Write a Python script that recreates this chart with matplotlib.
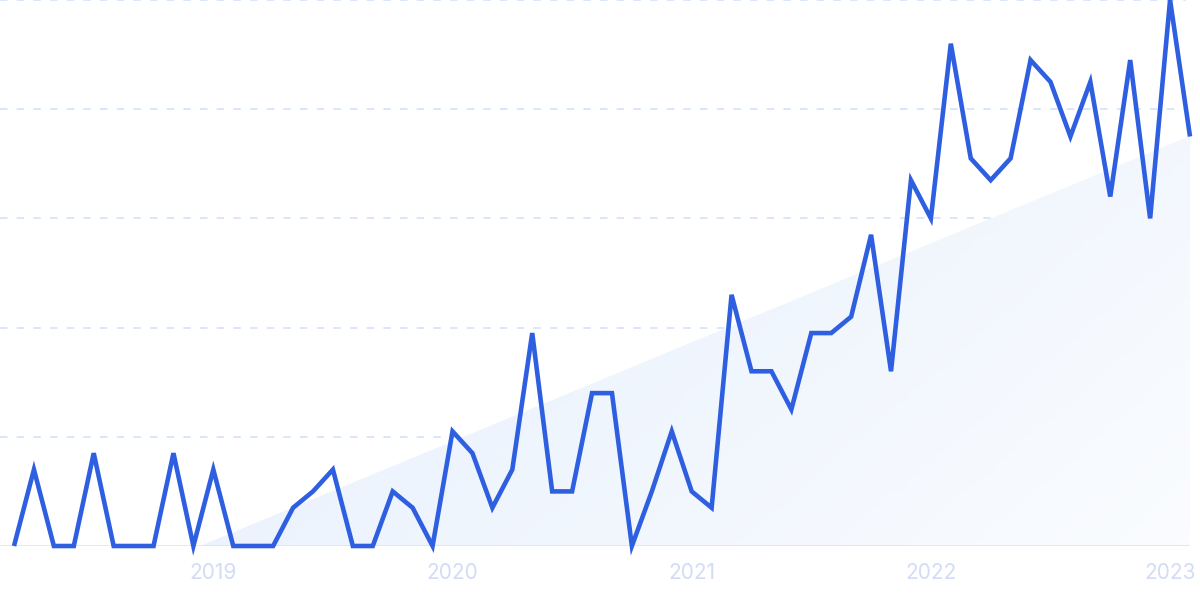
import matplotlib
matplotlib.use("Agg")
import matplotlib.pyplot as plt
import numpy as np
from matplotlib.colors import LinearSegmentedColormap

plt.rcParams['font.family'] = ['Inter', 'DejaVu Sans']

# Monthly data, 2018-03 .. 2023-02
months = [f"{y}-{m:02d}" for y in range(2018, 2024) for m in range(1, 13)][2:62]
values = [0, 14, 0, 0, 17, 0, 0, 0, 17, 0,
          14, 0, 0, 0, 7, 10, 14, 0, 0, 10,
          7, 0, 21, 17, 7, 14, 39, 10, 10, 28,
          28, 0, 10, 21, 10, 7, 46, 32, 32, 25,
          39, 39, 42, 57, 32, 67, 60, 92, 71, 67,
          71, 89, 85, 75, 85, 64, 89, 60, 100, 75]
trend_start, trend_end = -14.1, 75.1
tick_labels = ["2019", "2020", "2021", "2022", "2023"]
tick_months = ["2019-01", "2020-01", "2021-01", "2022-01", "2023-01"]

W, H = 1200, 599
fig = plt.figure(figsize=(W / 100, H / 100), dpi=100)
ax = fig.add_axes([0, (H - 546) / H, 1190 / W, 546 / H])

x = np.arange(len(values))
xr = x[-1]
step = (1190 - 14) / xr
ax.set_xlim(-14 / step, xr)
ax.set_ylim(0, 100)

# trend area with gradient
trend = np.linspace(trend_start, trend_end, len(values))
xt = np.linspace(0, xr, 400)
tt = np.interp(xt, x, trend)
poly = ax.fill_between(xt, 0, np.clip(tt, 0, None), color='none', lw=0)
cmap = LinearSegmentedColormap.from_list('g', ['#deeafb', '#edf4fd', '#fafcff'])
gx, gy = np.meshgrid(np.linspace(0, 1, 200), np.linspace(0, 1, 100))
grad = 0.65 * gx + 0.35 * (1 - gy)
im = ax.imshow(grad, extent=[0, xr, 0, 100], origin='lower', aspect='auto',
               cmap=cmap, vmin=0, vmax=1, zorder=1)
path = poly.get_paths()[0]
im.set_clip_path(path, transform=ax.transData)

# grid
for g in [20, 40, 60, 80, 100]:
    ax.axhline(g, color='#d3e3fa', lw=1.2, ls=(0, (4.5, 5.5)), zorder=0.5,
               xmax=0.997)
ax.axhline(0, color='#d3e4f7', lw=1.8, zorder=2)

ax.plot(x, values, color='#2f5fe1', lw=3.3, solid_joinstyle='miter',
        solid_capstyle='butt', zorder=3, clip_on=False)

for s in ax.spines.values():
    s.set_visible(False)
ax.set_yticks([])
ax.set_xticks([months.index(m) for m in tick_months])
ax.set_xticklabels(tick_labels, fontsize=15, color='#d3dcf6')
ax.tick_params(axis='x', length=0, pad=12)

fig.savefig("out.png", dpi=100, facecolor='white')
